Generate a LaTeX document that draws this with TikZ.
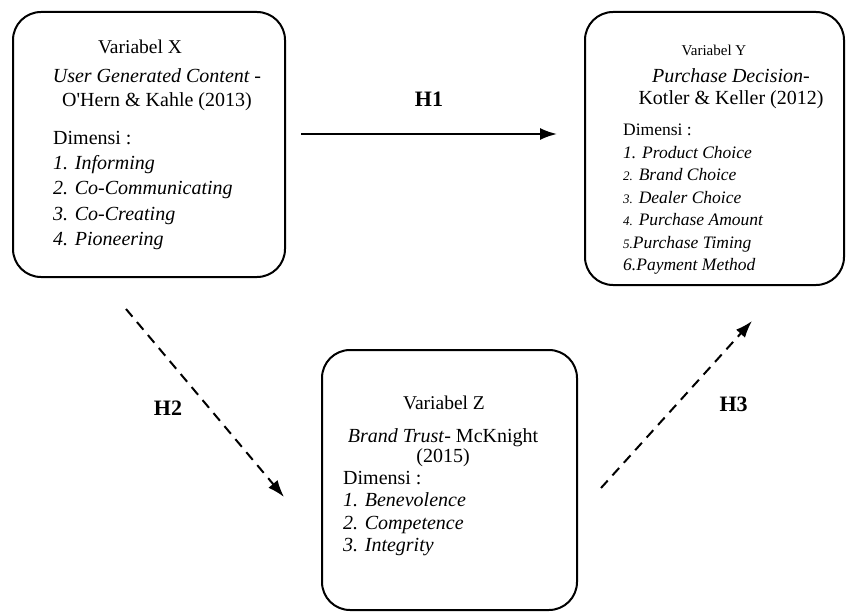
\documentclass[tikz,border=0pt]{standalone}
\usepackage{fontspec}
\setmainfont{Liberation Serif}
\usetikzlibrary{
  arrows.meta,
  positioning,
  calc
}
\newcommand{\angkakecil}[1]{{\fontsize{13}{22.5}\selectfont #1}}

\begin{document}
\begin{tikzpicture}[
      x=1pt, y=-1pt,
      >={Latex[length=17pt, width=12pt]},
      variabel/.style={draw=black, line width=2pt, rounded corners=28pt, inner sep=0pt},
      judul/.style={inner sep=0pt, font=\fontsize{19.5}{24}\selectfont},
      isi/.style={inner sep=0pt, align=left, font=\fontsize{20}{25.2}\selectfont},
      panah/.style={->, line width=2pt},
      putus/.style={panah, dash pattern=on 10pt off 7pt},
      hipo/.style={inner sep=0pt, font=\fontsize{22}{24}\selectfont\bfseries}
  ]
      \useasboundingbox (0,0) rectangle (848,615);

      % Kotak variabel
      \node[variabel, minimum width=272pt, minimum height=265pt] (varX) at (149,144.5) {};
      \node[variabel, minimum width=259pt, minimum height=273pt] (varY) at (714.5,148.5) {};
      \node[variabel, minimum width=255pt, minimum height=260pt] (varZ) at (449.5,480) {};

      % Variabel X
      \node[judul] (judulX) at (140,47) {Variabel X};
      \node[isi, align=center, font=\fontsize{20}{24}\selectfont] (sumberX) at (157,90)
          {\textit{User Generated Content -}\\O\textquotesingle Hern \& Kahle (2013)};
      \node[isi, anchor=west] (dimX) at (53,190.5)
          {Dimensi :\\\textit{1. Informing}\\\textit{2. Co-Communicating}\\\textit{3. Co-Creating}\\\textit{4. Pioneering}};

      % Variabel Y
      \node[judul, font=\fontsize{15}{18}\selectfont] (judulY) at (714,50) {Variabel Y};
      \node[isi, align=center, font=\fontsize{20}{22}\selectfont] (sumberY) at (731,89)
          {\textit{Purchase Decision-}\\Kotler \& Keller (2012)};
      \node[isi, anchor=west, font=\fontsize{17.5}{22.5}\selectfont] (dimY) at (623,199.5)
          {Dimensi :\\\textit{1. Product Choice}\\\textit{\angkakecil{2.} Brand Choice}\\\textit{\angkakecil{3.} Dealer Choice}\\\textit{\angkakecil{4.} Purchase Amount}\\\textit{\angkakecil{5.}Purchase Timing}\\\textit{6.Payment Method}};

      % Variabel Z
      \node[judul] (judulZ) at (444,403) {Variabel Z};
      \node[isi, align=center, font=\fontsize{20}{20}\selectfont] (sumberZ) at (443,448)
          {\textit{Brand Trust}- McKnight\\(2015)};
      \node[isi, anchor=west, font=\fontsize{20}{22.3}\selectfont] (dimZ) at (343,513.5)
          {Dimensi :\\\textit{1. Benevolence}\\\textit{2. Competence}\\\textit{3. Integrity}};

      % Hipotesis
      \draw[panah] ([xshift=15pt, yshift=10.5pt]varX.east) -- ([xshift=-27pt, yshift=14.5pt]varY.west)
          node[hipo, midway, above=26pt] (h1) {H1};
      \draw[putus] ([xshift=-23pt, yshift=-31pt]varX.south) -- ([xshift=-37pt, yshift=-17pt]varZ.west)
          node[hipo, midway, left=22pt, yshift=-5pt] (h2) {H2};
      \draw[putus] ([xshift=23pt, yshift=-8pt]varZ.east) -- ([xshift=37.5pt, yshift=-35pt]varY.south)
          node[hipo, midway, right=42pt] (h3) {H3};
  \end{tikzpicture}
\end{document}
